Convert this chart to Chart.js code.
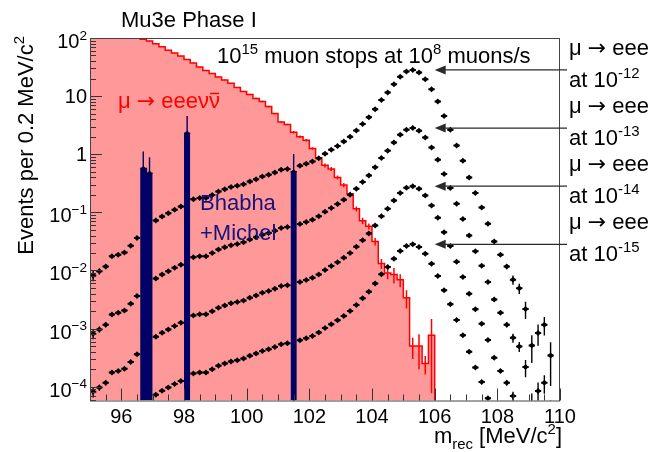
<!DOCTYPE html>
<html>
<head>
<meta charset="utf-8">
<script src="https://cdn.jsdelivr.net/npm/chart.js@4.4.1/dist/chart.umd.min.js"></script>
<style>
  html, body { margin: 0; padding: 0; background: #fff; }
  canvas { display: block; }
</style>
</head>
<body>
<canvas id="chart" width="657" height="452"></canvas>
<script>
// 0.2 MeV bins, first bin starts at 95 MeV
const binLow = 95.0;
const binWidth = 0.2;

// mu -> eee nu nubar background (red histogram), bins 95.0 - 106.0
const radValues = [
    200, 185, 170, 155, 142, 130, 118, 106, 95.5, 89,
    79.4, 70.8, 61.7, 55, 49, 42.7, 37.2, 31.6, 27.5, 24.5,
    21.4, 19, 16.6, 14.1, 12, 10.7, 9.1, 8.1, 6.6, 5.0,
    3.6, 3.24, 2.4, 2.0, 1.74, 1.26, 0.87, 0.645, 0.56, 0.40,
    0.295, 0.209, 0.115, 0.072, 0.0575, 0.0316, 0.0132, 0.0091, 0.0085, 0.0069,
    0.0034, 0.0005, 0.0005, 0.00025, 0.00077
];
const radRelErr = [
    0.015, 0.015, 0.015, 0.015, 0.015, 0.015, 0.015, 0.015, 0.015, 0.015,
    0.015, 0.015, 0.015, 0.015, 0.015, 0.015, 0.015, 0.015, 0.015, 0.015,
    0.015, 0.015, 0.015, 0.015, 0.015, 0.03, 0.03, 0.03, 0.03, 0.03,
    0.03, 0.03, 0.05, 0.05, 0.05, 0.05, 0.05, 0.08, 0.08, 0.08,
    0.08, 0.08, 0.1, 0.12, 0.12, 0.15, 0.2, 0.22, 0.3, 0.25,
    0.35, 0.4, 0.6, 0.35, 0.9
];

// mu -> eee signal, bins 95.0 - 110.0 (null: hidden behind the Bhabha bins or off scale)
const sig12 = [
    0.0082, 0.0097, 0.0117, 0.0175, 0.0187, 0.0205, 0.0267, 0.0363, null, null,
    0.0726, 0.085, 0.097, 0.111, 0.126, null, 0.169, 0.176, 0.176, 0.200,
    0.229, 0.251, 0.272, 0.286, 0.306, 0.34, 0.373, 0.414, 0.443, 0.485,
    0.54, 0.56, null, 0.632, 0.684, 0.75, 0.857, 1.02, 1.19, 1.39,
    1.65, 2.01, 2.55, 3.33, 4.33, 5.96, 8.6, 11.5, 16.0, 21.6,
    26.4, 28.2, 25.4, 19.5, 13.1, 8.05, 4.57, 2.63, 1.41, 0.77,
    0.40, 0.215, 0.121, 0.0637, 0.0316, 0.0187, 0.0117, 0.00695, 0.00493, 0.00218,
    0.000511, 0.000843, 0.00117, 0.000344, null
];
const sig13 = [
    8.2e-4, 9.7e-4, 1.17e-3, 1.75e-3, 1.87e-3, 2.05e-3, 2.67e-3, 3.63e-3, null, null,
    7.26e-3, 8.5e-3, 9.7e-3, 1.11e-2, 1.26e-2, null, 1.69e-2, 1.76e-2, 1.76e-2, 2.0e-2,
    2.29e-2, 2.51e-2, 2.72e-2, 2.86e-2, 3.06e-2, 3.4e-2, 3.73e-2, 4.14e-2, 4.43e-2, 4.85e-2,
    5.4e-2, 5.6e-2, null, 6.32e-2, 6.84e-2, 7.5e-2, 8.57e-2, 0.102, 0.119, 0.139,
    0.165, 0.201, 0.255, 0.333, 0.433, 0.596, 0.86, 1.15, 1.6, 2.16,
    2.64, 2.82, 2.54, 1.95, 1.31, 0.805, 0.457, 0.263, 0.141, 7.7e-2,
    4.0e-2, 2.15e-2, 1.21e-2, 6.37e-3, 3.16e-3, 1.87e-3, 1.17e-3, 6.95e-4, 4.93e-4, 2.18e-4,
    5.11e-5, 8.43e-5, 1.17e-4, 3.44e-5, null
];
const sig14 = [
    8.2e-5, 9.7e-5, 1.17e-4, 1.75e-4, 1.87e-4, 2.05e-4, 2.67e-4, 3.63e-4, null, null,
    7.26e-4, 8.5e-4, 9.7e-4, 1.11e-3, 1.26e-3, null, 1.69e-3, 1.76e-3, 1.76e-3, 2.0e-3,
    2.29e-3, 2.51e-3, 2.72e-3, 2.86e-3, 3.06e-3, 3.4e-3, 3.73e-3, 4.14e-3, 4.43e-3, 4.85e-3,
    5.4e-3, 5.6e-3, null, 6.32e-3, 6.84e-3, 7.5e-3, 8.57e-3, 1.02e-2, 1.19e-2, 1.39e-2,
    1.65e-2, 2.01e-2, 2.55e-2, 3.33e-2, 4.33e-2, 5.96e-2, 8.6e-2, 0.115, 0.16, 0.216,
    0.264, 0.282, 0.254, 0.195, 0.131, 8.05e-2, 4.57e-2, 2.63e-2, 1.41e-2, 7.7e-3,
    4.0e-3, 2.15e-3, 1.21e-3, 6.37e-4, 3.16e-4, 1.87e-4, 1.17e-4, 6.95e-5, null, null,
    null, null, null, null, null
];
const sig15 = [
    null, null, null, null, null, null, null, null, null, null,
    7.26e-5, 8.5e-5, 9.7e-5, 1.11e-4, 1.26e-4, null, 1.69e-4, 1.76e-4, 1.76e-4, 2.0e-4,
    2.29e-4, 2.51e-4, 2.72e-4, 2.86e-4, 3.06e-4, 3.4e-4, 3.73e-4, 4.14e-4, 4.43e-4, 4.85e-4,
    5.4e-4, 5.6e-4, null, 6.32e-4, 6.84e-4, 7.5e-4, 8.57e-4, 1.02e-3, 1.19e-3, 1.39e-3,
    1.65e-3, 2.01e-3, 2.55e-3, 3.33e-3, 4.33e-3, 5.96e-3, 8.6e-3, 1.15e-2, 1.6e-2, 2.16e-2,
    2.64e-2, 2.82e-2, 2.54e-2, 1.95e-2, 1.31e-2, 8.05e-3, 4.57e-3, 2.63e-3, 1.41e-3, 7.7e-4,
    4.0e-4, 2.15e-4, 1.21e-4, 6.37e-5, null, null, null, null, null, null,
    null, null, null, null, null
];
// relative statistical error of the signal histogram (same sample for all four)
const sigRelErr = [
    0.2, 0.12, 0.1, 0.06, 0.06, 0.06, 0.05, 0.05, 0, 0,
    0.03, 0.03, 0.03, 0.03, 0.03, 0, 0.03, 0.03, 0.03, 0.03,
    0.03, 0.03, 0.03, 0.03, 0.03, 0.03, 0.03, 0.03, 0.03, 0.03,
    0.03, 0.03, 0, 0.03, 0.03, 0.03, 0.03, 0.03, 0.03, 0.03,
    0.03, 0.03, 0.03, 0.03, 0.03, 0.03, 0.03, 0.03, 0.03, 0.03,
    0.03, 0.03, 0.03, 0.03, 0.03, 0.03, 0.03, 0.03, 0.03, 0.03,
    0.03, 0.03, 0.03, 0.04, 0.05, 0.07, 0.1, 0.18, 0.2, 0.33,
    0.5, 0.4, 0.35, 0.7, 0
];
const sigSeries = [sig12, sig13, sig14, sig15];
const sigExponents = ['-12', '-13', '-14', '-15'];

// Bhabha + Michel bins
const bhabhaX = [96.7, 96.9, 98.1, 101.5];
const bhabhaY = [0.57, 0.47, 2.3, 0.50];
const bhabhaErr = [0.54, 0.42, 2.26, 0.51];

const xTicks = [96, 98, 100, 102, 104, 106, 108, 110];
const yTickExps = [2, 1, 0, -1, -2, -3, -4];

const FONT = '"Liberation Sans", Arial, sans-serif';
const ARROW_FONT = '"DejaVu Sans", sans-serif';
const NAVY = '#000066';
const arrowTipX = 106.0;

function binCenter(i) {
    return binLow + binWidth * (i + 0.5);
}

// red histogram as a step line through the bin low edges
const radPoints = radValues.map((v, i) => ({ x: binLow + binWidth * i, y: v }));
radPoints.push({ x: binLow + binWidth * radValues.length, y: radValues[radValues.length - 1] });
radPoints.push({ x: binLow + binWidth * radValues.length, y: 1e-8 });
const radErrors = radValues.map((v, i) => ({ x: binCenter(i), y: v, err: v * radRelErr[i] }));

// Bhabha bins grouped into contiguous blocks
const bhabhaSets = [];
let block = null;
bhabhaX.forEach((c, i) => {
    const lo = c - binWidth / 2, hi = c + binWidth / 2;
    if (block && Math.abs(block[block.length - 1].x - lo) < 1e-6) {
        block[block.length - 1] = { x: lo, y: bhabhaY[i] };
    } else {
        block = [{ x: lo, y: bhabhaY[i] }];
        bhabhaSets.push(block);
    }
    block.push({ x: hi, y: bhabhaY[i] });
});

const datasets = [];
datasets.push({
    data: radPoints,
    stepped: true,
    fill: 'start',
    backgroundColor: 'rgb(255,153,153)',
    borderColor: '#ff0000',
    borderWidth: 1.5,
    pointRadius: 0,
    clip: 0,
    order: 3,
    errors: radErrors,
    errorColor: '#ff0000',
    errorWidth: 1.5
});
sigSeries.forEach(s => {
    const pts = [];
    const errs = [];
    s.forEach((v, i) => {
        if (v === null) return;
        pts.push({ x: binCenter(i), y: v });
        errs.push({ x: binCenter(i), y: v, err: v * sigRelErr[i] });
    });
    datasets.push({
        data: pts,
        showLine: false,
        pointStyle: 'rectRot',
        pointRadius: 3,
        pointBorderWidth: 0,
        pointBackgroundColor: '#000',
        clip: 0,
        order: 2,
        errors: errs,
        errorColor: '#000',
        errorWidth: 1.4,
        errorHalfWidth: binWidth / 2
    });
});
bhabhaSets.forEach(b => {
    datasets.push({
        data: b,
        stepped: true,
        fill: 'start',
        backgroundColor: NAVY,
        borderColor: NAVY,
        borderWidth: 1.5,
        pointRadius: 0,
        clip: 0,
        order: 1
    });
});
datasets.push({
    data: bhabhaX.map((c, i) => ({ x: c, y: bhabhaY[i] })),
    showLine: false,
    pointRadius: 2,
    pointBorderWidth: 0,
    pointBackgroundColor: '#000',
    clip: 0,
    order: 0,
    errors: bhabhaX.map((c, i) => ({ x: c, y: bhabhaY[i], err: bhabhaErr[i] })),
    errorColor: NAVY,
    errorWidth: 1.4
});

// parts: [text, 'sup' | 'sub' | '', optional font family]
function richText(ctx, parts, x, y, size, align, color) {
    ctx.fillStyle = color;
    ctx.textBaseline = 'alphabetic';
    ctx.textAlign = 'left';
    const fontOf = p => (p[1] ? size * 0.68 : size) + 'px ' + (p[2] || FONT);
    const widths = parts.map(p => { ctx.font = fontOf(p); return ctx.measureText(p[0]).width; });
    const total = widths.reduce((a, b) => a + b, 0);
    let cx = align === 'right' ? x - total : (align === 'center' ? x - total / 2 : x);
    parts.forEach((p, i) => {
        ctx.font = fontOf(p);
        const dy = p[1] === 'sup' ? -size * 0.42 : (p[1] === 'sub' ? size * 0.28 : 0);
        ctx.fillText(p[0], cx, y + dy);
        cx += widths[i];
    });
    return total;
}

const errorBars = {
    id: 'errorBars',
    afterDatasetDraw(chart, args) {
        const ds = chart.data.datasets[args.index];
        if (!ds.errors) return;
        const { ctx, chartArea: a, scales: { x, y } } = chart;
        ctx.save();
        ctx.beginPath();
        ctx.rect(a.left, a.top, a.right - a.left, a.bottom - a.top);
        ctx.clip();
        ctx.strokeStyle = ds.errorColor;
        ds.errors.forEach(e => {
            const px = x.getPixelForValue(e.x);
            const py = y.getPixelForValue(e.y);
            ctx.lineWidth = ds.errorWidth;
            if (e.err > 0) {
                const top = y.getPixelForValue(e.y + e.err);
                const low = e.y - e.err;
                const bot = low > 0 ? y.getPixelForValue(low) : a.bottom + 5;
                ctx.beginPath();
                ctx.moveTo(px, top);
                ctx.lineTo(px, bot);
                ctx.stroke();
            }
            if (ds.errorHalfWidth) {
                ctx.lineWidth = 2;
                ctx.beginPath();
                ctx.moveTo(x.getPixelForValue(e.x - ds.errorHalfWidth), py);
                ctx.lineTo(x.getPixelForValue(e.x + ds.errorHalfWidth), py);
                ctx.stroke();
            }
        });
        ctx.restore();
    }
};

const decorations = {
    id: 'decorations',
    afterDraw(chart) {
        const { ctx, chartArea: a, scales: { x, y } } = chart;
        ctx.save();

        // ticks inside the frame
        ctx.strokeStyle = '#333';
        ctx.lineWidth = 1;
        ctx.beginPath();
        for (let v = 95; v <= 110.001; v += 0.5) {
            const px = Math.round(x.getPixelForValue(v)) + 0.5;
            const len = xTicks.includes(Math.round(v * 10) / 10) ? 12 : 6;
            ctx.moveTo(px, a.bottom);
            ctx.lineTo(px, a.bottom - len);
        }
        for (let e = -5; e <= 2; e++) {
            for (let m = 1; m <= 9; m++) {
                const v = m * Math.pow(10, e);
                if (v < y.min || v > y.max) continue;
                const py = Math.round(y.getPixelForValue(v)) + 0.5;
                ctx.moveTo(a.left, py);
                ctx.lineTo(a.left + (m === 1 ? 12 : 6), py);
            }
        }
        ctx.stroke();

        // frame
        ctx.strokeStyle = '#444';
        ctx.strokeRect(a.left + 0.5, a.top + 0.5, a.right - a.left - 1, a.bottom - a.top);

        // x tick labels
        xTicks.forEach(t => {
            richText(ctx, [[String(t)]], x.getPixelForValue(t), a.bottom + 22, 20, 'center', '#000');
        });
        // y tick labels
        yTickExps.forEach(e => {
            const py = y.getPixelForValue(Math.pow(10, e));
            if (e === 0) richText(ctx, [['1']], 87, py + 7, 20, 'right', '#000');
            else if (e === 1) richText(ctx, [['10']], 87, py + 7, 20, 'right', '#000');
            else richText(ctx, [['10'], [e < 0 ? '\u2212' + (-e) : String(e), 'sup']], 87, py + 10, 20, 'right', '#000');
        });

        // axis titles
        richText(ctx, [['m'], ['rec', 'sub'], [' [MeV/c'], ['2', 'sup'], [']']], 562, 443, 22, 'right', '#000');
        ctx.save();
        ctx.translate(33, 36);
        ctx.rotate(-Math.PI / 2);
        richText(ctx, [['Events per 0.2 MeV/c'], ['2', 'sup']], 0, 0, 22, 'right', '#000');
        ctx.restore();

        // texts
        richText(ctx, [['Mu3e Phase I']], 121, 27, 22, 'left', '#000');
        richText(ctx, [['10'], ['15', 'sup'], [' muon stops at 10'], ['8', 'sup'], [' muons/s']], 217, 63, 22, 'left', '#000');
        const w = richText(ctx, [['\u03bc '], ['\u2192', '', ARROW_FONT], [' eee\u03bd\u03bd']], 118, 108, 22, 'left', '#ff0000');
        ctx.font = '22px ' + FONT;
        const nu = ctx.measureText('\u03bd').width;
        ctx.strokeStyle = '#ff0000';
        ctx.lineWidth = 1.5;
        ctx.beginPath();
        ctx.moveTo(118 + w - nu + 1, 93.5);
        ctx.lineTo(118 + w - 1, 93.5);
        ctx.stroke();
        richText(ctx, [['Bhabha']], 200, 210, 22, 'left', '#14147a');
        richText(ctx, [['+Michel']], 200, 240, 22, 'left', '#14147a');

        // arrows and labels for the four branching ratios
        const tipX = x.getPixelForValue(arrowTipX);
        sigSeries.forEach((s, k) => {
            const peak = Math.max(...s.filter(v => v !== null));
            const py = y.getPixelForValue(peak);
            ctx.strokeStyle = '#2a2a2a';
            ctx.fillStyle = '#2a2a2a';
            ctx.lineWidth = 1.3;
            ctx.beginPath();
            ctx.moveTo(a.right + 7, py);
            ctx.lineTo(tipX + 8, py);
            ctx.stroke();
            ctx.beginPath();
            ctx.moveTo(tipX, py);
            ctx.lineTo(tipX + 11, py - 4.5);
            ctx.lineTo(tipX + 11, py + 4.5);
            ctx.closePath();
            ctx.fill();
            richText(ctx, [['\u03bc '], ['\u2192', '', ARROW_FONT], [' eee']], 569, py - 15, 22, 'left', '#000');
            richText(ctx, [['at 10'], [sigExponents[k], 'sup']], 569, py + 17, 22, 'left', '#000');
        });
        ctx.restore();
    }
};

new Chart(document.getElementById('chart'), {
    type: 'line',
    data: { datasets: datasets },
    options: {
        responsive: false,
        animation: false,
        layout: { padding: { left: 90, right: 97, top: 38, bottom: 51.5 } },
        plugins: { legend: { display: false }, tooltip: { enabled: false } },
        scales: {
            x: { type: 'linear', min: 95, max: 110, display: false, bounds: 'data' },
            y: { type: 'logarithmic', min: 5.8e-5, max: 100, display: false, bounds: 'data' }
        }
    },
    plugins: [errorBars, decorations]
});
</script>
</body>
</html>
